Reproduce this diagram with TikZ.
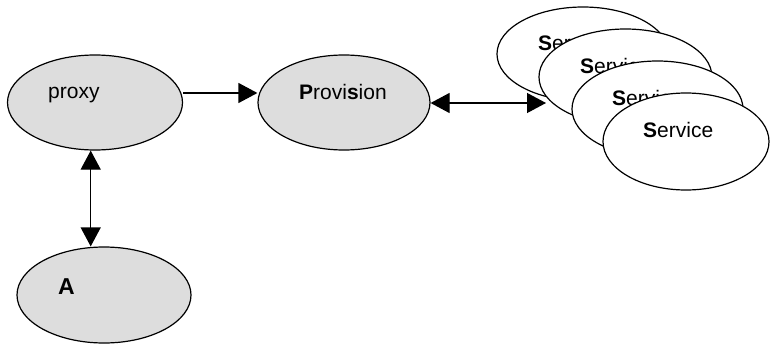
\documentclass[tikz,border=0pt]{standalone}
\usepackage{fontspec}
\setmainfont{Liberation Sans}
\usetikzlibrary{shapes.geometric,arrows.meta}
\definecolor{nodegray}{RGB}{221,221,221}
\tikzset{
  oval/.style={ellipse, draw=black, line width=1.2pt, inner sep=0pt},
  grayoval/.style={oval, fill=nodegray},
  whiteoval/.style={oval, fill=white},
  lbl/.style={anchor=base west, inner sep=0pt, font=\fontsize{21pt}{25pt}\selectfont},
  biglbl/.style={anchor=base west, inner sep=0pt, font=\fontsize{23pt}{27pt}\selectfont\bfseries},
  tip/.tip={Triangle[length=19pt,width=20pt]},
  conn/.style={line width=1.2pt, -tip},
  biconn/.style={line width=1.2pt, tip-tip}
}
\begin{document}
\begin{tikzpicture}[x=1pt,y=-1pt]
\useasboundingbox (0,0) rectangle (770,345);
% gray nodes
\node[grayoval, minimum width=175pt, minimum height=95pt] (proxy) at (95,102.5) {};
\node[lbl] (proxytxt) at (48,98) {proxy};
\node[grayoval, minimum width=172pt, minimum height=95pt] (prov) at (344,102.5) {};
\node[lbl] (provtxt) at (299,99) {\textbf{P}rovi\textbf{s}ion};
\node[grayoval, minimum width=174pt, minimum height=96pt] (A) at (104,295) {};
\node[biglbl] (Atxt) at (58,294) {A};
% stacked services
\node[whiteoval, minimum width=172pt, minimum height=94pt] (s1) at (583,54) {};
\node[lbl] (s1txt) at (538,50) {\textbf{S}ervice};
\node[whiteoval, minimum width=173pt, minimum height=96pt] (s2) at (625.5,77) {};
\node[lbl] (s2txt) at (580,73) {\textbf{S}ervice};
\node[whiteoval, minimum width=171pt, minimum height=96pt] (s3) at (657.5,109) {};
\node[lbl] (s3txt) at (612,105) {\textbf{S}ervice};
\node[whiteoval, minimum width=166pt, minimum height=97pt] (s4) at (686,141.5) {};
\node[lbl] (s4txt) at (643,137) {\textbf{S}ervice};
% connectors
\coordinate (hy) at (0,93);
\coordinate (svcin) at (546,103);
\coordinate (vx) at (90.7,0);
\draw[conn] (proxy.east |- hy) -- (prov.west |- hy);
\draw[biconn] (prov.east |- svcin) -- (svcin);
\draw[biconn] (vx |- proxy.south) -- (vx |- A.north);
\end{tikzpicture}
\end{document}
